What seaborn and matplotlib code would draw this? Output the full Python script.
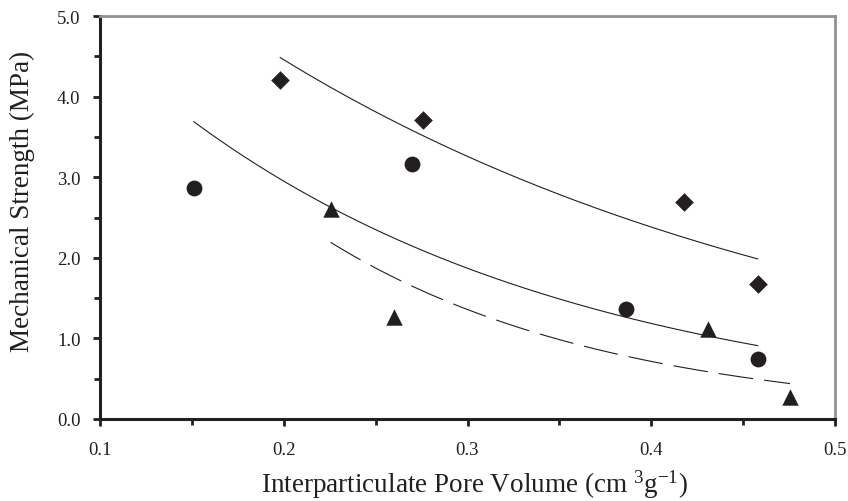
import numpy as np
import pandas as pd
import seaborn as sns
import matplotlib
matplotlib.use("Agg")
import matplotlib.pyplot as plt
from matplotlib.ticker import MultipleLocator, FormatStrFormatter

# ---- data ----
diamond_x = [0.198, 0.276, 0.418, 0.458]
diamond_y = [4.20, 3.71, 2.69, 1.68]
circle_x = [0.151, 0.270, 0.386, 0.458]
circle_y = [2.86, 3.16, 1.36, 0.74]
triangle_x = [0.2255, 0.260, 0.431, 0.4755]
triangle_y = [2.60, 1.26, 1.12, 0.27]

x_ticks = [0.1, 0.2, 0.3, 0.4, 0.5]
y_ticks = [0.0, 1.0, 2.0, 3.0, 4.0, 5.0]

sns.set_style("white")
plt.rcParams["font.family"] = ["Liberation Serif", "DejaVu Serif"]
plt.rcParams["mathtext.fontset"] = "custom"
plt.rcParams["mathtext.rm"] = "Liberation Serif"
plt.rcParams["mathtext.it"] = "Liberation Serif:italic"
plt.rcParams["lines.scale_dashes"] = False

INK = "#231f20"

fig = plt.figure(figsize=(8.48, 5.02), dpi=100)
ax = fig.add_axes([100 / 848, 1 - 420 / 502, 735 / 848, 403 / 502])

series = [
    ("diamond", diamond_x, diamond_y, "D", (None, None)),
    ("circle", circle_x, circle_y, "o", (None, None)),
    ("triangle", triangle_x, triangle_y, "^", (25, 8)),
]

for name, xs, ys, mk, dash in series:
    xs = np.asarray(xs)
    ys = np.asarray(ys)
    # exponential trendline (least squares on log y)
    b, a = np.polyfit(xs, np.log(ys), 1)
    xf = np.linspace(xs.min(), xs.max(), 200)
    fit = pd.DataFrame({"x": xf, "y": np.exp(a + b * xf)})
    sns.lineplot(data=fit, x="x", y="y", ax=ax, color=INK, lw=0.8)
    ln = ax.lines[-1]
    if dash[0] is not None:
        ln.set_dashes(dash)
    pts = pd.DataFrame({"x": xs, "y": ys})
    size = {"D": 90, "o": 130, "^": 140}[mk]
    sns.scatterplot(data=pts, x="x", y="y", ax=ax, marker=mk, s=size,
                    color=INK, edgecolor=INK, linewidth=0, zorder=3)

ax.set_xlim(0.1, 0.5)
ax.set_ylim(0.0, 5.0)
ax.set_xticks(x_ticks)
ax.set_yticks(y_ticks)
ax.xaxis.set_minor_locator(MultipleLocator(0.05))
ax.yaxis.set_minor_locator(MultipleLocator(0.5))
ax.xaxis.set_major_formatter(FormatStrFormatter("%.1f"))
ax.yaxis.set_major_formatter(FormatStrFormatter("%.1f"))

for s in ["left", "bottom"]:
    ax.spines[s].set_color(INK)
    ax.spines[s].set_linewidth(2.2)
for s in ["top", "right"]:
    ax.spines[s].set_color("#929292")
    ax.spines[s].set_linewidth(2.0)

ax.tick_params(axis="both", which="major", direction="out", length=5, width=2,
               color=INK, labelsize=13.5, labelcolor=INK, pad=9,
               bottom=True, left=True, top=False, right=False)
ax.tick_params(axis="both", which="minor", direction="out", length=4, width=2,
               color=INK, bottom=True, left=True, top=False, right=False)
ax.tick_params(axis="x", which="major", pad=11)

ax.set_xlabel("Interparticulate Pore Volume (cm $^{3}$g$^{-1}$)", fontsize=19.5,
              color=INK, va="center")
ax.set_ylabel("Mechanical Strength (MPa)", fontsize=19.5, color=INK, va="center")
ax.xaxis.set_label_coords(0.509, -0.161)
ax.yaxis.set_label_coords(-0.106, 0.543)
ax.grid(False)

fig.savefig("out.png", dpi=100, facecolor="white")
